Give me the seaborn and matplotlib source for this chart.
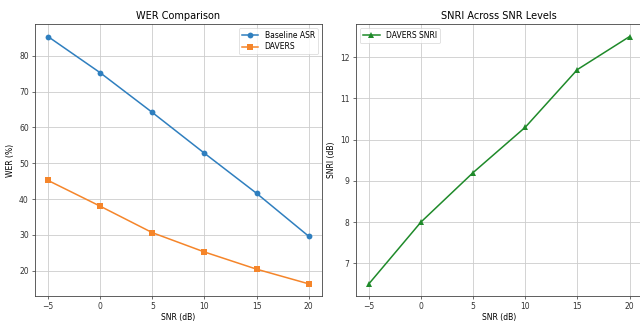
import matplotlib
matplotlib.use("Agg")
import matplotlib.pyplot as plt
import seaborn as sns
import pandas as pd

snr_levels = [-5, 0, 5, 10, 15, 20]
wer_baseline = [85.4, 75.3, 64.2, 52.8, 41.6, 29.6]
wer_davers = [45.2, 38.0, 30.6, 25.2, 20.4, 16.3]
snri_davers = [6.5, 8.0, 9.2, 10.3, 11.7, 12.5]

df = pd.DataFrame({"SNR": snr_levels, "base": wer_baseline,
                   "davers": wer_davers, "snri": snri_davers})

plt.rcParams['font.family'] = ['DejaVu Sans']
fig = plt.figure(figsize=(6.4, 3.23), dpi=100)
ax1 = fig.add_axes([0.0547, 0.083, 0.448, 0.842])
ax2 = fig.add_axes([0.556, 0.083, 0.448, 0.842])

lw = 1.1
ms = 4.2
sns.lineplot(data=df, x="SNR", y="base", ax=ax1, marker="o", color="#2f7fbf",
             label="Baseline ASR", linewidth=lw, markersize=ms, markeredgewidth=0)
sns.lineplot(data=df, x="SNR", y="davers", ax=ax1, marker="s", color="#f5852a",
             label="DAVERS", linewidth=lw, markersize=ms, markeredgewidth=0)
sns.lineplot(data=df, x="SNR", y="snri", ax=ax2, marker="^", color="#1f8a2a",
             label="DAVERS SNRI", linewidth=lw, markersize=ms, markeredgewidth=0)

ax1.set_title("WER Comparison", fontsize=7, pad=4)
ax1.set_xlabel("SNR (dB)", fontsize=5.5, labelpad=1)
ax1.set_ylabel("WER (%)", fontsize=5.5, labelpad=3)
ax2.set_title("SNRI Across SNR Levels", fontsize=7, pad=4)
ax2.set_xlabel("SNR (dB)", fontsize=5.5, labelpad=1)
ax2.set_ylabel("SNRI (dB)", fontsize=5.5, labelpad=3)

for ax in (ax1, ax2):
    ax.set_xticks([-5, 0, 5, 10, 15, 20])
    ax.tick_params(labelsize=5.5, length=2.5, width=0.5, pad=2, colors="#333333")
    ax.grid(True, color="#cccccc", linewidth=0.6)
    for s in ax.spines.values():
        s.set_linewidth(0.6)
        s.set_color("#444444")
    leg = ax.legend(fontsize=5.5, frameon=True, handlelength=2.2,
                    borderpad=0.4, labelspacing=0.3)
    leg.get_frame().set_linewidth(0.5)
ax1.legend_.set_loc("upper right")
ax2.legend_.set_loc("upper left")

fig.savefig("out.png", dpi=100)
